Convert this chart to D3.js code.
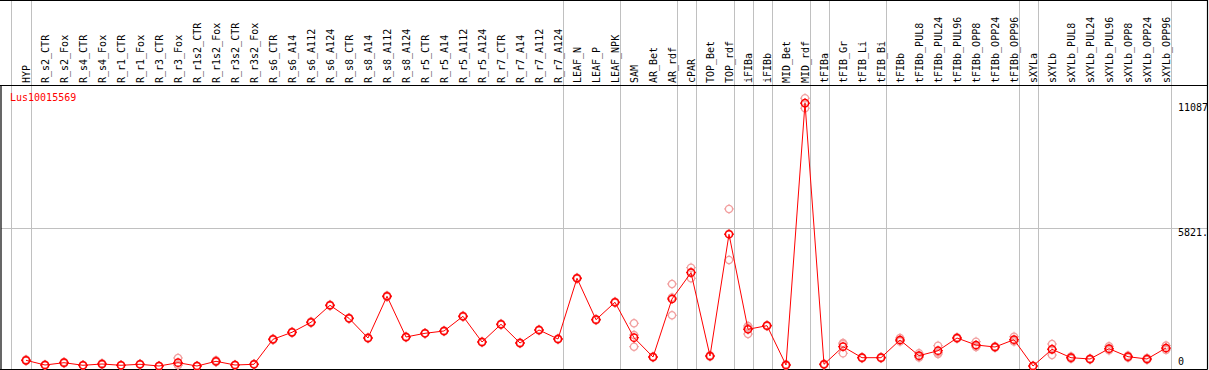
<!DOCTYPE html>
<html>
<head>
<meta charset="utf-8">
<script src="https://cdn.jsdelivr.net/npm/d3@7"></script>
<style>
  body { margin: 0; background: #fff; }
  svg text { font-family: "DejaVu Sans Mono", monospace; font-size: 10px; }
</style>
</head>
<body>
<div id="chart"></div>
<script>
// Gene / sample data
const geneName = 'Lus10015569';

const samples = ['HYP', 'R_s2_CTR', 'R_s2_Fox', 'R_s4_CTR', 'R_s4_Fox', 'R_r1_CTR', 'R_r1_Fox',
  'R_r3_CTR', 'R_r3_Fox', 'R_r1s2_CTR', 'R_r1s2_Fox', 'R_r3s2_CTR', 'R_r3s2_Fox',
  'R_s6_CTR', 'R_s6_A14', 'R_s6_A112', 'R_s6_A124', 'R_s8_CTR', 'R_s8_A14', 'R_s8_A112', 'R_s8_A124',
  'R_r5_CTR', 'R_r5_A14', 'R_r5_A112', 'R_r5_A124', 'R_r7_CTR', 'R_r7_A14', 'R_r7_A112', 'R_r7_A124',
  'LEAF_N', 'LEAF_P', 'LEAF_NPK', 'SAM', 'AR_Bet', 'AR_rdf', 'cPAR', 'TOP_Bet', 'TOP_rdf',
  'iFIBa', 'iFIBb', 'MID_Bet', 'MID_rdf', 'tFIBa', 'tFIB_Gr', 'tFIB_Li', 'tFIB_Bi', 'tFIBb',
  'tFIBb_PUL8', 'tFIBb_PUL24', 'tFIBb_PUL96', 'tFIBb_OPP8', 'tFIBb_OPP24', 'tFIBb_OPP96',
  'sXYLa', 'sXYLb', 'sXYLb_PUL8', 'sXYLb_PUL24', 'sXYLb_PUL96', 'sXYLb_OPP8', 'sXYLb_OPP24', 'sXYLb_OPP96'];

// mean expression per sample
const means = [261, 63, 160, 51, 105, 51, 93,
  21, 160, 21, 219, 63, 93,
  1146, 1440, 1862, 2578, 2030, 1200, 2957, 1243,
  1398, 1495, 2114, 1032, 1777, 990, 1537, 1158,
  3715, 1971, 2704, 1213, 400, 2843, 3951, 442, 5568,
  1567, 1719, 63, 11087, 93, 834, 371, 371, 1116,
  455, 665, 1200, 906, 821, 1129,
  21, 724, 371, 316, 750, 413, 316, 779];

// replicates
const rep1 = [290, 80, 190, 60, 140, 60, 110,
  30, 358, 30, 260, 75, 110,
  1170, 1460, 1890, 2600, 2050, 1225, 2985, 1265,
  1410, 1515, 2140, 1055, 1800, 1010, 1560, 1180,
  3740, 1995, 2730, 1820, 420, 3475, 4162, 470, 6634,
  1706, 1740, 90, 11297, 115, 948, 390, 395, 1200,
  560, 876, 1230, 1045, 850, 1255,
  35, 948, 420, 340, 850, 460, 360, 880];
const rep2 = [240, 50, 140, 40, 80, 42, 80,
  15, 60, 12, 190, 55, 80,
  1120, 1420, 1840, 2555, 2010, 1180, 2930, 1220,
  1385, 1475, 2090, 1010, 1755, 970, 1515, 1135,
  3690, 1950, 2680, 834, 380, 2157, 3715, 415, 4486,
  1369, 1700, 40, 10875, 70, 556, 350, 350, 1050,
  380, 527, 1170, 820, 790, 1050,
  10, 484, 330, 290, 680, 370, 280, 700];
const rep3 = [255, 60, 150, 52, 95, 50, 90,
  20, 62, 21, 207, 60, 90,
  1148, 1440, 1856, 2579, 2030, 1195, 2956, 1244,
  1399, 1495, 2112, 1031, 1776, 990, 1536, 1159,
  3715, 1968, 2702, 1327, 400, 2900, 3975, 440, 5585,
  1626, 1717, 60, 11089, 94, 990, 372, 368, 1098,
  425, 592, 1200, 853, 823, 1082,
  18, 740, 363, 318, 720, 409, 308, 757];

// group separators come after these samples
const groupEnds = ['HYP', 'R_r7_A124', 'LEAF_NPK', 'AR_rdf', 'cPAR', 'TOP_rdf', 'iFIBa', 'iFIBb',
  'MID_rdf', 'tFIBa', 'tFIB_Bi', 'tFIBb_OPP96', 'sXYLa', 'sXYLb_OPP96'];

const yMax = 11642;
const yTicks = [
  { value: 11087, label: '11087' },
  { value: 5821, label: '5821.' },
  { value: 0, label: '0' }
];

const W = 1209, H = 370;
const headerY = 85.5, bottomY = 369.5, rightX = 1207.5;

const svg = d3.select('#chart').append('svg')
  .attr('width', W)
  .attr('height', H);

const x = d3.scalePoint()
  .domain(samples)
  .range([26, 26 + 19 * (samples.length - 1)]);

const y = d3.scaleLinear()
  .domain([0, yMax])
  .range([366.5, 90]);

const red = '#ff0000';
const pink = '#f2a0a0';

// vertical group lines (full height)
const sepX = [x(samples[0]) - 15.5].concat(groupEnds.map(s => x(s) + 4.5));
svg.append('g').selectAll('line')
  .data(sepX)
  .enter()
  .append('line')
  .attr('x1', d => Math.round(d) + 0.5)
  .attr('x2', d => Math.round(d) + 0.5)
  .attr('y1', 0)
  .attr('y2', bottomY)
  .attr('stroke', '#c0c0c0');

// horizontal mid gridline
svg.append('line')
  .attr('x1', 1).attr('x2', rightX)
  .attr('y1', Math.round(y(5821)) + 0.5)
  .attr('y2', Math.round(y(5821)) + 0.5)
  .attr('stroke', '#c0c0c0');

// frame
svg.append('line').attr('x1', 0).attr('x2', rightX).attr('y1', 0.5).attr('y2', 0.5).attr('stroke', '#000');
svg.append('line').attr('x1', 0).attr('x2', rightX).attr('y1', headerY).attr('y2', headerY).attr('stroke', '#000').attr('stroke-width', 1.2);
svg.append('line').attr('x1', 0).attr('x2', rightX).attr('y1', bottomY).attr('y2', bottomY).attr('stroke', '#000').attr('stroke-width', 1.2);
svg.append('line').attr('x1', rightX).attr('x2', rightX).attr('y1', 0).attr('y2', bottomY).attr('stroke', '#000').attr('stroke-width', 1.2);
svg.append('line').attr('x1', 1).attr('x2', 1).attr('y1', headerY).attr('y2', bottomY).attr('stroke', '#000').attr('stroke-width', 1.2);

// sample labels, rotated
svg.append('g').selectAll('text')
  .data(samples)
  .enter()
  .append('text')
  .attr('transform', d => `translate(${x(d) + 4},83) rotate(-90)`)
  .attr('fill', '#000')
  .text(d => d);

// gene name
svg.append('text')
  .attr('x', 10)
  .attr('y', 101)
  .attr('fill', red)
  .text(geneName);

// y labels
svg.append('g').selectAll('text')
  .data(yTicks)
  .enter()
  .append('text')
  .attr('x', 1178)
  .attr('y', d => d.value === 0 ? y(0) - 1.5 : y(d.value) + 8)
  .attr('fill', '#000')
  .text(d => d.label);

function drawMarker(g, color, width) {
  g.append('circle')
    .attr('r', 3.6)
    .attr('fill', 'none')
    .attr('stroke', color)
    .attr('stroke-width', width);
  [[0, -1], [0, 1], [-1, 0], [1, 0]].forEach(([dx, dy]) => {
    g.append('line')
      .attr('x1', dx * 3.6).attr('y1', dy * 3.6)
      .attr('x2', dx * 5).attr('y2', dy * 5)
      .attr('stroke', color)
      .attr('stroke-width', 1);
  });
}

// replicate markers
const reps = [];
samples.forEach((s, i) => {
  [rep1[i], rep2[i], rep3[i]].forEach(v => reps.push({ s, v }));
});
svg.append('g').selectAll('g')
  .data(reps)
  .enter()
  .append('g')
  .attr('transform', d => `translate(${x(d.s)},${y(d.v)})`)
  .each(function() { drawMarker(d3.select(this), pink, 1.3); });

// mean line
const meanData = samples.map((s, i) => ({ s, v: means[i] }));
svg.append('path')
  .datum(meanData)
  .attr('fill', 'none')
  .attr('stroke', red)
  .attr('stroke-width', 1)
  .attr('d', d3.line().x(d => x(d.s)).y(d => y(d.v)));

// mean markers
svg.append('g').selectAll('g')
  .data(meanData)
  .enter()
  .append('g')
  .attr('transform', d => `translate(${x(d.s)},${y(d.v)})`)
  .each(function() { drawMarker(d3.select(this), red, 1.5); });
</script>
</body>
</html>
